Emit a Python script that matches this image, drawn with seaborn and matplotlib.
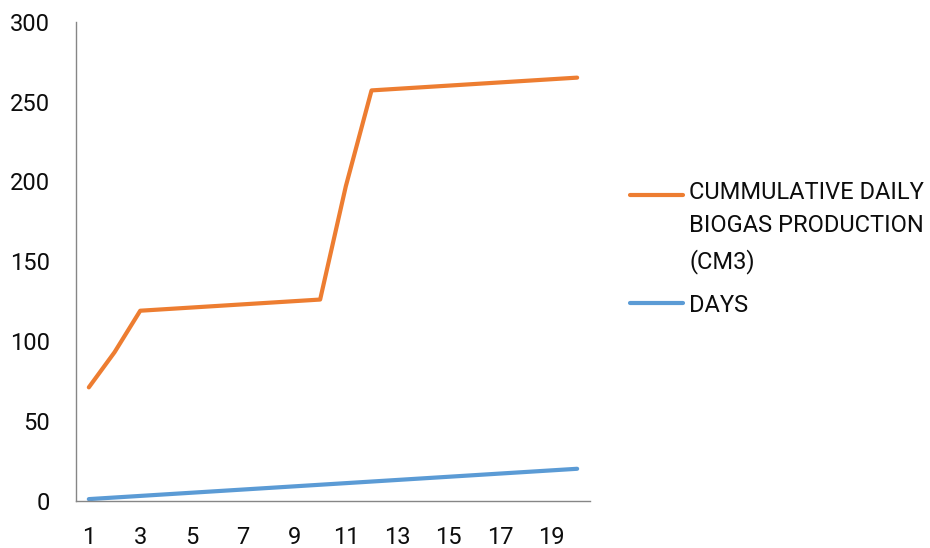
import numpy as np
import pandas as pd
import seaborn as sns
import matplotlib.pyplot as plt
from matplotlib.legend_handler import HandlerLine2D

# Data
days = list(range(1, 21))
biogas = [71, 93, 119, 120, 121, 122, 123, 124, 125, 126,
          197, 257, 258, 259, 260, 261, 262, 263, 264, 265]
tick_labels = [str(d) for d in range(1, 21, 2)]

series_names = ['CUMMULATIVE DAILY\nBIOGAS PRODUCTION\n(CM3)', 'DAYS']
colors = ['#ED7D31', '#5B9BD5']

df = pd.DataFrame({
    'day': days * 2,
    'value': biogas + days,
    'series': [series_names[0]] * 20 + [series_names[1]] * 20,
})

sns.set_style('white')
plt.rcParams['font.family'] = ['Roboto', 'DejaVu Sans']

fig = plt.figure(figsize=(9.3, 5.48), dpi=100)
ax = fig.add_axes([0.0817, 0.0863, 0.5527, 0.874])

sns.lineplot(data=df, x='day', y='value', hue='series', palette=colors,
             linewidth=3, ax=ax, legend=False)

ax.set_xlim(0.5, 20.5)
ax.set_ylim(0, 300)
ax.set_yticks(range(0, 301, 50))
ax.set_xticks(range(1, 21, 2))
ax.set_xticklabels(tick_labels)
ax.set_xticks(np.arange(0.5, 21, 1), minor=True)
ax.tick_params(axis='x', which='major', length=0, pad=18.5, labelsize=17, labelcolor='#0d0d0d')
ax.tick_params(axis='x', which='minor', length=6, color='#868686', width=1, direction='out')
ax.tick_params(axis='y', length=6.5, color='#868686', width=1, direction='out',
               labelsize=17, labelcolor='#0d0d0d', pad=12)
ax.set_xlabel('')
ax.set_ylabel('')

for side in ['top', 'right']:
    ax.spines[side].set_visible(False)
for side in ['left', 'bottom']:
    ax.spines[side].set_color('#868686')
    ax.spines[side].set_linewidth(1)


# legend line sits next to the first line of a wrapped label (Excel style)
class FirstLineHandler(HandlerLine2D):
    def __init__(self, shift, **kw):
        super().__init__(**kw)
        self.shift = shift

    def create_artists(self, legend, orig_handle, xdescent, ydescent,
                       width, height, fontsize, trans):
        artists = super().create_artists(legend, orig_handle, xdescent, ydescent,
                                         width, height, fontsize, trans)
        for a in artists:
            a.set_ydata(np.asarray(a.get_ydata()) + self.shift)
        return artists


handles = [plt.Line2D([], [], color=c, lw=3) for c in colors]
leg = fig.legend(handles, series_names, loc='upper left', bbox_to_anchor=(0.6774, 0.6697),
                 frameon=False, fontsize=17, handlelength=2.25, handletextpad=0.25,
                 labelspacing=0.85, borderpad=0, borderaxespad=0,
                 handler_map={handles[0]: FirstLineHandler(24.1)})
for t in leg.get_texts():
    t.set_linespacing(1.58)
    t.set_color('#0d0d0d')

fig.savefig('out.png', dpi=100)
